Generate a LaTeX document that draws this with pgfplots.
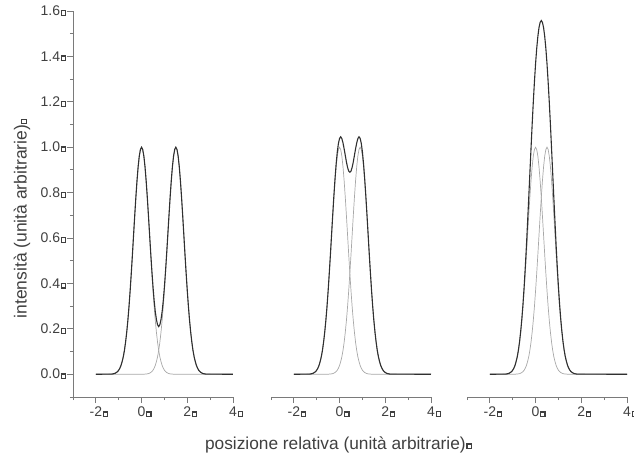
\documentclass[border=0pt]{standalone}
\usepackage{pgfplots}
\pgfplotsset{compat=1.18}
\usepackage{pgfplotstable}
\usepackage{fontspec}
\setmainfont{Liberation Sans}

\definecolor{txtgray}{HTML}{404040}
\definecolor{axisgray}{HTML}{7A7A7A}
\definecolor{sumcol}{HTML}{303030}
\definecolor{compcol}{HTML}{A8A8A8}

% small hollow square placed after every label
\newcommand{\sq}{\kern0.8pt\raisebox{0.8pt}{\setlength{\fboxsep}{0pt}\setlength{\fboxrule}{1.2pt}\fbox{\rule{0pt}{3.6pt}\hspace{3.0pt}}}}
\newcommand{\xl}[1]{#1\rlap{\sq}}
\newcommand{\yl}[1]{#1\sq}

% two Gaussian components (a, b) and their sum (s)
\pgfplotstableread{
x a b s
-2.00 0 0 0
-1.35 0.001 0 0.001
-1.30 0.001 0 0.001
-1.25 0.002 0 0.002
-1.20 0.003 0 0.003
-1.15 0.005 0 0.005
-1.10 0.008 0 0.008
-1.05 0.012 0 0.012
-1.00 0.018 0 0.018
-0.95 0.027 0 0.027
-0.90 0.039 0 0.039
-0.85 0.056 0 0.056
-0.80 0.077 0 0.077
-0.75 0.105 0 0.105
-0.70 0.141 0 0.141
-0.65 0.185 0 0.185
-0.60 0.237 0 0.237
-0.55 0.298 0 0.298
-0.50 0.368 0 0.368
-0.45 0.445 0 0.445
-0.40 0.527 0 0.527
-0.35 0.613 0 0.613
-0.30 0.698 0 0.698
-0.25 0.779 0 0.779
-0.20 0.852 0 0.852
-0.15 0.914 0 0.914
-0.10 0.961 0 0.961
-0.05 0.990 0 0.990
0.00 1.000 0 1.000
0.05 0.990 0 0.990
0.10 0.961 0 0.961
0.15 0.914 0.001 0.915
0.20 0.852 0.001 0.853
0.25 0.779 0.002 0.781
0.30 0.698 0.003 0.701
0.35 0.613 0.005 0.618
0.40 0.527 0.008 0.535
0.45 0.445 0.012 0.457
0.50 0.368 0.018 0.386
0.55 0.298 0.027 0.325
0.60 0.237 0.039 0.276
0.65 0.185 0.056 0.241
0.70 0.141 0.077 0.218
0.75 0.105 0.105 0.210
0.80 0.077 0.141 0.218
0.85 0.056 0.185 0.241
0.90 0.039 0.237 0.276
0.95 0.027 0.298 0.325
1.00 0.018 0.368 0.386
1.05 0.012 0.445 0.457
1.10 0.008 0.527 0.535
1.15 0.005 0.613 0.618
1.20 0.003 0.698 0.701
1.25 0.002 0.779 0.781
1.30 0.001 0.852 0.853
1.35 0.001 0.914 0.915
1.40 0 0.961 0.961
1.45 0 0.990 0.990
1.50 0 1.000 1.000
1.55 0 0.990 0.990
1.60 0 0.961 0.961
1.65 0 0.914 0.914
1.70 0 0.852 0.852
1.75 0 0.779 0.779
1.80 0 0.698 0.698
1.85 0 0.613 0.613
1.90 0 0.527 0.527
1.95 0 0.445 0.445
2.00 0 0.368 0.368
2.05 0 0.298 0.298
2.10 0 0.237 0.237
2.15 0 0.185 0.185
2.20 0 0.141 0.141
2.25 0 0.105 0.105
2.30 0 0.077 0.077
2.35 0 0.056 0.056
2.40 0 0.039 0.039
2.45 0 0.027 0.027
2.50 0 0.018 0.018
2.55 0 0.012 0.012
2.60 0 0.008 0.008
2.65 0 0.005 0.005
2.70 0 0.003 0.003
2.75 0 0.002 0.002
2.80 0 0.001 0.001
2.85 0 0.001 0.001
4.00 0 0 0
}\panelA

\pgfplotstableread{
x a b s
-2.00 0 0 0
-1.35 0.001 0 0.001
-1.30 0.001 0 0.001
-1.25 0.002 0 0.002
-1.20 0.003 0 0.003
-1.15 0.005 0 0.005
-1.10 0.008 0 0.008
-1.05 0.012 0 0.012
-1.00 0.018 0 0.018
-0.95 0.027 0 0.027
-0.90 0.039 0 0.039
-0.85 0.056 0 0.056
-0.80 0.077 0 0.077
-0.75 0.105 0 0.105
-0.70 0.141 0 0.141
-0.65 0.185 0 0.185
-0.60 0.237 0 0.237
-0.55 0.298 0 0.298
-0.50 0.368 0 0.368
-0.45 0.445 0.001 0.446
-0.40 0.527 0.001 0.528
-0.35 0.613 0.002 0.615
-0.30 0.698 0.003 0.701
-0.25 0.779 0.005 0.784
-0.20 0.852 0.008 0.860
-0.15 0.914 0.012 0.926
-0.10 0.961 0.018 0.979
-0.05 0.990 0.027 1.017
0.00 1.000 0.039 1.039
0.05 0.990 0.056 1.046
0.10 0.961 0.077 1.038
0.15 0.914 0.105 1.019
0.20 0.852 0.141 0.993
0.25 0.779 0.185 0.964
0.30 0.698 0.237 0.935
0.35 0.613 0.298 0.911
0.40 0.527 0.368 0.895
0.45 0.445 0.445 0.890
0.50 0.368 0.527 0.895
0.55 0.298 0.613 0.911
0.60 0.237 0.698 0.935
0.65 0.185 0.779 0.964
0.70 0.141 0.852 0.993
0.75 0.105 0.914 1.019
0.80 0.077 0.961 1.038
0.85 0.056 0.990 1.046
0.90 0.039 1.000 1.039
0.95 0.027 0.990 1.017
1.00 0.018 0.961 0.979
1.05 0.012 0.914 0.926
1.10 0.008 0.852 0.860
1.15 0.005 0.779 0.784
1.20 0.003 0.698 0.701
1.25 0.002 0.613 0.615
1.30 0.001 0.527 0.528
1.35 0.001 0.445 0.446
1.40 0 0.368 0.368
1.45 0 0.298 0.298
1.50 0 0.237 0.237
1.55 0 0.185 0.185
1.60 0 0.141 0.141
1.65 0 0.105 0.105
1.70 0 0.077 0.077
1.75 0 0.056 0.056
1.80 0 0.039 0.039
1.85 0 0.027 0.027
1.90 0 0.018 0.018
1.95 0 0.012 0.012
2.00 0 0.008 0.008
2.05 0 0.005 0.005
2.10 0 0.003 0.003
2.15 0 0.002 0.002
2.20 0 0.001 0.001
2.25 0 0.001 0.001
4.00 0 0 0
}\panelB

\pgfplotstableread{
x a b s
-2.00 0 0 0
-1.35 0.001 0 0.001
-1.30 0.001 0 0.001
-1.25 0.002 0 0.002
-1.20 0.003 0 0.003
-1.15 0.005 0 0.005
-1.10 0.008 0 0.008
-1.05 0.012 0 0.012
-1.00 0.018 0 0.018
-0.95 0.027 0 0.027
-0.90 0.039 0 0.039
-0.85 0.056 0.001 0.057
-0.80 0.077 0.001 0.078
-0.75 0.105 0.002 0.107
-0.70 0.141 0.003 0.144
-0.65 0.185 0.005 0.190
-0.60 0.237 0.008 0.245
-0.55 0.298 0.012 0.310
-0.50 0.368 0.018 0.386
-0.45 0.445 0.027 0.472
-0.40 0.527 0.039 0.566
-0.35 0.613 0.056 0.669
-0.30 0.698 0.077 0.775
-0.25 0.779 0.105 0.884
-0.20 0.852 0.141 0.993
-0.15 0.914 0.185 1.099
-0.10 0.961 0.237 1.198
-0.05 0.990 0.298 1.288
0.00 1.000 0.368 1.368
0.05 0.990 0.445 1.435
0.10 0.961 0.527 1.488
0.15 0.914 0.613 1.527
0.20 0.852 0.698 1.550
0.25 0.779 0.779 1.558
0.30 0.698 0.852 1.550
0.35 0.613 0.914 1.527
0.40 0.527 0.961 1.488
0.45 0.445 0.990 1.435
0.50 0.368 1.000 1.368
0.55 0.298 0.990 1.288
0.60 0.237 0.961 1.198
0.65 0.185 0.914 1.099
0.70 0.141 0.852 0.993
0.75 0.105 0.779 0.884
0.80 0.077 0.698 0.775
0.85 0.056 0.613 0.669
0.90 0.039 0.527 0.566
0.95 0.027 0.445 0.472
1.00 0.018 0.368 0.386
1.05 0.012 0.298 0.310
1.10 0.008 0.237 0.245
1.15 0.005 0.185 0.190
1.20 0.003 0.141 0.144
1.25 0.002 0.105 0.107
1.30 0.001 0.077 0.078
1.35 0.001 0.056 0.057
1.40 0 0.039 0.039
1.45 0 0.027 0.027
1.50 0 0.018 0.018
1.55 0 0.012 0.012
1.60 0 0.008 0.008
1.65 0 0.005 0.005
1.70 0 0.003 0.003
1.75 0 0.002 0.002
1.80 0 0.001 0.001
1.85 0 0.001 0.001
4.00 0 0 0
}\panelC

\pgfplotsset{
  panel/.style={
    scale only axis, width=160pt, height=386pt,
    xmin=-3, xmax=4, ymin=-0.1, ymax=1.6,
    axis x line*=bottom, axis y line*=left,
    axis line style={-, draw=axisgray, line width=0.9pt},
    tick align=outside,
    major tick length=6pt, minor tick length=3pt,
    tick style={draw=axisgray, line width=0.9pt},
    xtick={-2,0,2,4},
    xticklabels={\xl{-2},\xl{0},\xl{2},\xl{4}},
    minor xtick={-3,-1,1,3},
    ytick={0,0.2,0.4,0.6,0.8,1.0,1.2,1.4,1.6},
    yticklabels={\yl{0.0},\yl{0.2},\yl{0.4},\yl{0.6},\yl{0.8},\yl{1.0},\yl{1.2},\yl{1.4},\yl{1.6}},
    minor ytick={-0.1,0.1,0.3,0.5,0.7,0.9,1.1,1.3,1.5},
    tick label style={font=\fontsize{14}{16}\selectfont, text=txtgray},
    xticklabel style={inner sep=0pt, yshift=-4pt},
    yticklabel style={inner sep=0pt, xshift=-0.5pt},
    clip=false,
  },
  comp/.style={draw=compcol, line width=0.7pt},
  total/.style={draw=sumcol, line width=1.1pt},
}

\begin{document}
\begin{tikzpicture}
\useasboundingbox (-73pt,-58pt) rectangle (561pt,397pt);

\begin{axis}[panel, at={(0pt,0pt)}, anchor=south west]
  \addplot[comp] table[x=x, y=a] {\panelA};
  \addplot[comp] table[x=x, y=b] {\panelA};
  \addplot[total] table[x=x, y=s] {\panelA};
\end{axis}

\begin{axis}[panel, hide y axis, at={(198pt,0pt)}, anchor=south west]
  \addplot[comp] table[x=x, y=a] {\panelB};
  \addplot[comp] table[x=x, y=b] {\panelB};
  \addplot[total] table[x=x, y=s] {\panelB};
\end{axis}

\begin{axis}[panel, hide y axis, at={(394pt,0pt)}, anchor=south west]
  \addplot[comp] table[x=x, y=a] {\panelC};
  \addplot[comp] table[x=x, y=b] {\panelC};
  \addplot[total] table[x=x, y=s] {\panelC};
\end{axis}

\node[rotate=90, anchor=base, inner sep=0pt, text=txtgray,
      font=\fontsize{17.5}{20}\selectfont] at (-46.5pt,178.5pt)
  {intensità (unità arbitrarie)\sq};
\node[anchor=base, inner sep=0pt, text=txtgray,
      font=\fontsize{17.3}{20}\selectfont] at (265.5pt,-52pt)
  {posizione relativa (unità arbitrarie)\sq};
\end{tikzpicture}
\end{document}
